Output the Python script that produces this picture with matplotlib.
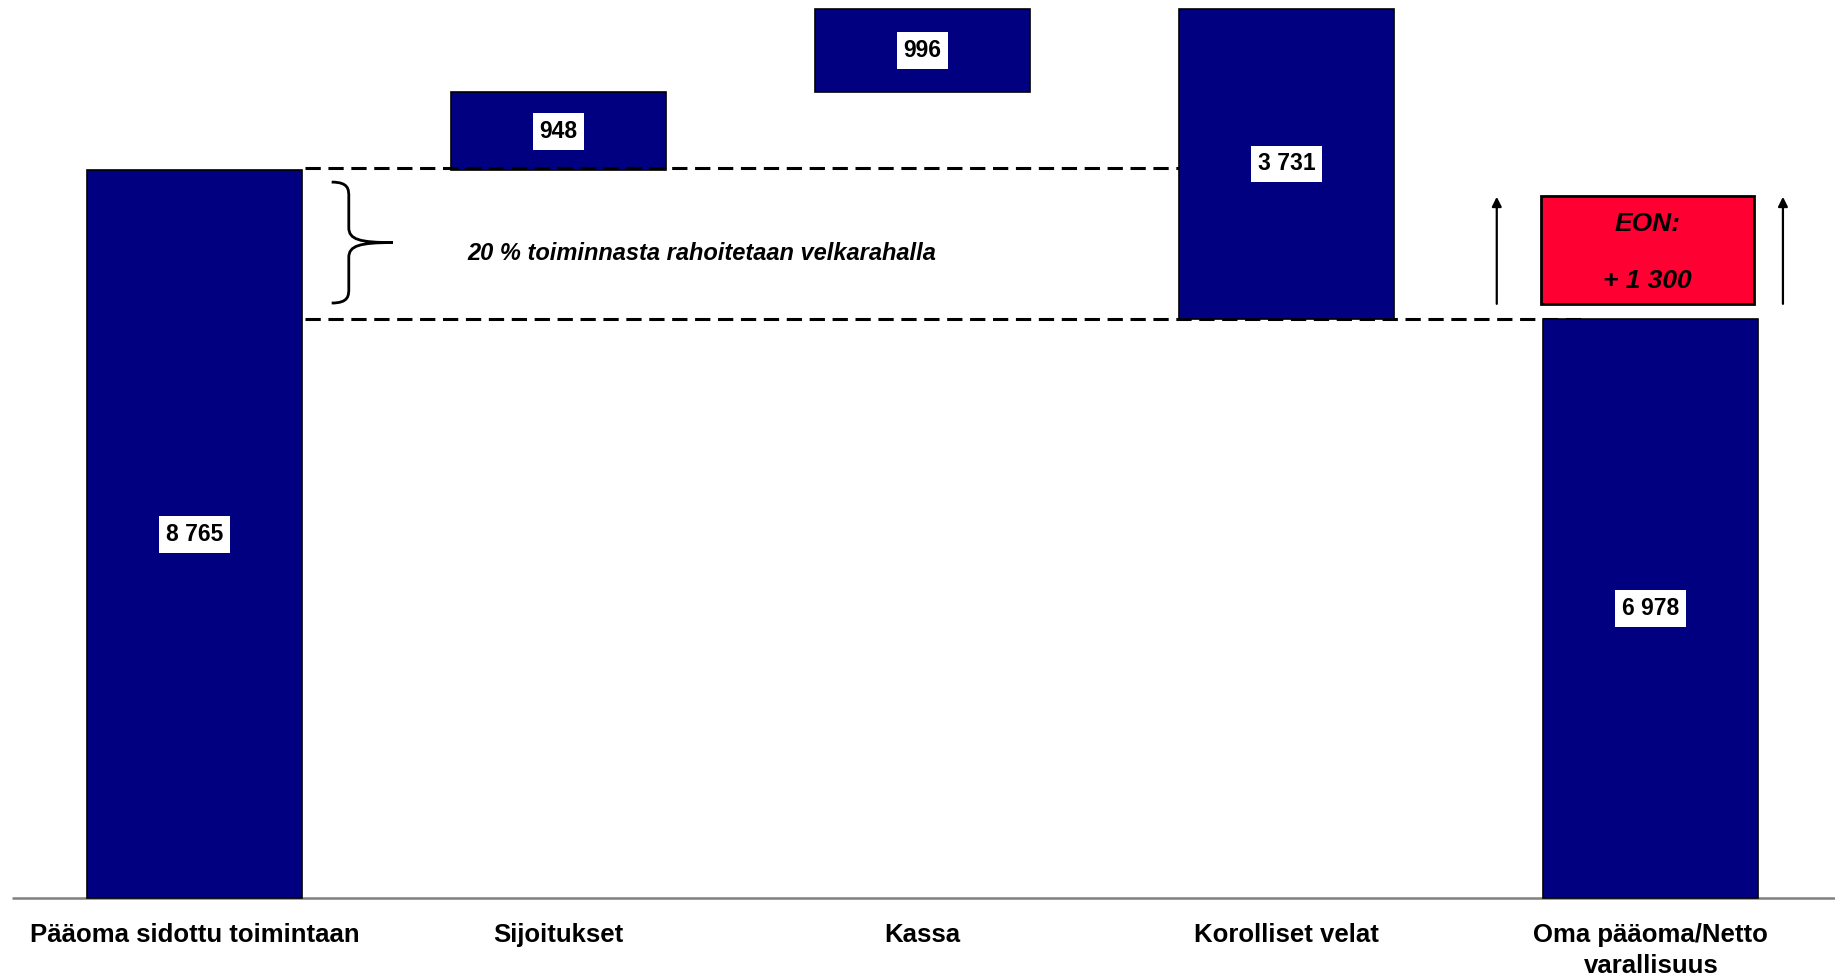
import matplotlib
matplotlib.use("Agg")
import matplotlib.pyplot as plt
from matplotlib.path import Path
import matplotlib.patches as mpatches

plt.rcParams['font.family'] = ['Liberation Sans', 'DejaVu Sans']

# data
categories = ['Pääoma sidottu toimintaan', 'Sijoitukset', 'Kassa',
              'Korolliset velat', 'Oma pääoma/Netto\nvarallisuus']
values = [8765, 948, 996, -3731, 6978]
is_total = [True, False, False, False, True]
eon_value = 1300
note_text = '20 % toiminnasta rahoitetaan velkarahalla'

navy = '#000080'
red = '#FF0033'
width = 0.59

fig = plt.figure(figsize=(18.35, 9.75), dpi=100)
ax = fig.add_axes([0, 0, 1, 1])
ax.axis('off')
ax.set_xlim(-0.534, 4.506)
ax.set_ylim(-928, 10819)

# waterfall bars
running = 0
bottoms, heights = [], []
for v, tot in zip(values, is_total):
    if tot:
        bottoms.append(0)
        heights.append(v)
        running = v
    else:
        if v >= 0:
            bottoms.append(running)
        else:
            bottoms.append(running + v)
        heights.append(abs(v))
        running += v

x = list(range(len(categories)))
ax.bar(x, heights, bottom=bottoms, width=width, color=navy,
       edgecolor='black', linewidth=1.2, zorder=3)

for i in x:
    lab = f"{abs(values[i]):,}".replace(',', ' ')
    ax.text(i, bottoms[i] + heights[i] / 2, lab, ha='center', va='center',
            fontsize=16.5, fontweight='bold', color='black', zorder=5,
            bbox=dict(boxstyle='square,pad=0.3', fc='white', ec='none'))

# baseline
ax.plot([-0.501, 4.6], [0, 0], color='#808080', lw=1.8, zorder=2,
        solid_capstyle='butt')

# category labels
for i, c in enumerate(categories):
    ax.text(i, -300, c, ha='center', va='top', fontsize=18.5,
            fontweight='bold', linespacing=1.35)

# dashed guide lines
base = values[0]
equity = values[-1]
ax.plot([width / 2 + 0.01, 3 - width / 2], [base + 35, base + 35],
        color='black', lw=2.2, dashes=(5, 2.5), zorder=4)
ax.plot([width / 2 + 0.01, 3.824], [equity, equity],
        color='black', lw=2.2, dashes=(5, 2.5), zorder=2)

# brace
bx0, bxm, bxt = 0.377, 0.424, 0.545
by0 = base - 140
by1 = equity + 190
byc = (by0 + by1) / 2
dy = 180
verts = [(bx0, by0), (bxm, by0), (bxm, by0 - dy / 2), (bxm, by0 - dy),
         (bxm, byc + dy),
         (bxm, byc + dy * 0.2), (bxm + 0.03, byc), (bxt, byc),
         (bxm + 0.03, byc), (bxm, byc - dy * 0.2), (bxm, byc - dy),
         (bxm, by1 + dy),
         (bxm, by1 + dy / 2), (bxm, by1), (bx0, by1)]
codes = [Path.MOVETO, Path.CURVE4, Path.CURVE4, Path.CURVE4,
         Path.LINETO,
         Path.CURVE4, Path.CURVE4, Path.CURVE4,
         Path.CURVE4, Path.CURVE4, Path.CURVE4,
         Path.LINETO,
         Path.CURVE4, Path.CURVE4, Path.CURVE4]
ax.add_patch(mpatches.PathPatch(Path(verts, codes), fc='none', ec='black',
                                lw=2.0))

ax.text(1.394, byc - 130, note_text, ha='center', va='center', fontsize=17,
        fontweight='bold', fontstyle='italic')

# EON box and arrows
eon_bottom = equity + 180
ax.bar(4 - 0.01, eon_value, bottom=eon_bottom, width=0.585, color=red,
       edgecolor='black', linewidth=2.0, zorder=3)
ax.text(4 - 0.01, eon_bottom + eon_value * 0.74, 'EON:', ha='center',
        va='center', fontsize=19, fontweight='bold', fontstyle='italic')
ax.text(4 - 0.01, eon_bottom + eon_value * 0.21,
        '+ ' + f"{eon_value:,}".replace(',', ' '), ha='center', va='center',
        fontsize=19, fontweight='bold', fontstyle='italic')

for ax_x in (3.577, 4.363):
    ax.annotate('', xy=(ax_x, eon_bottom + eon_value - 10),
                xytext=(ax_x, eon_bottom),
                arrowprops=dict(arrowstyle='-|>', color='black', lw=1.6,
                                mutation_scale=14, shrinkA=0, shrinkB=0))

fig.savefig('out.png', dpi=100)
